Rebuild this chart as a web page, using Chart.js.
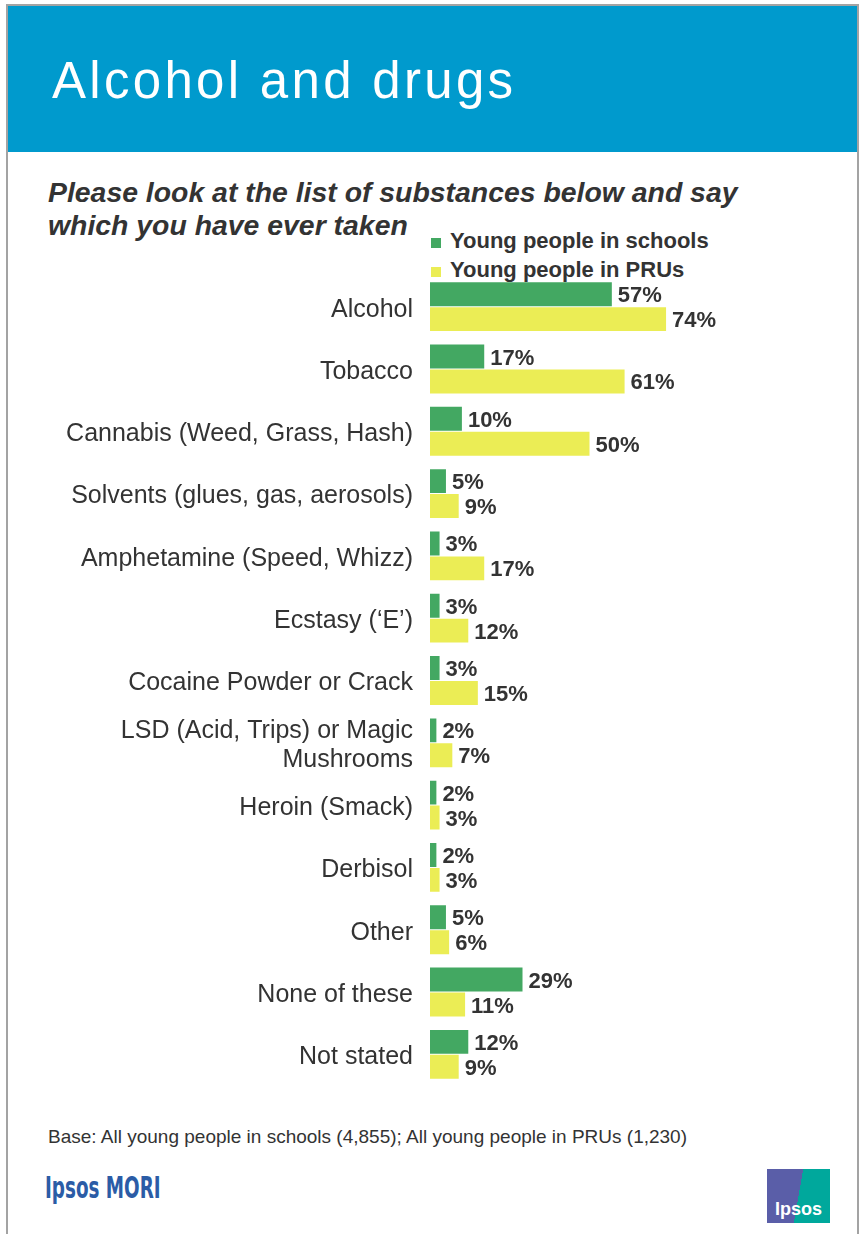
<!DOCTYPE html>
<html>
<head>
<meta charset="utf-8">
<script src="https://cdn.jsdelivr.net/npm/chart.js@4.4.1/dist/chart.umd.min.js"></script>
<style>
    body { margin: 0; background: #fff; font-family: "Liberation Sans", Arial, sans-serif; }
    .page { position: relative; width: 861px; height: 1234px; overflow: hidden; }
    .frame { position: absolute; left: 6px; top: 4px; width: 849px; height: 1300px; border: 2px solid #a3a3a3; border-bottom: none; }
    .header { position: absolute; left: 8px; top: 6px; width: 849px; height: 146px; background: #009acd; }
    .header h1 { position: absolute; left: 44px; top: 49px; margin: 0; font-size: 51px; font-weight: normal; letter-spacing: 3.3px; color: #fff; line-height: 1; }
    .question { position: absolute; left: 48px; top: 176px; margin: 0; font-size: 28.4px; font-weight: bold; font-style: italic; color: #333; line-height: 33px; }
    .legend { position: absolute; left: 431px; top: 228px; font-size: 22px; font-weight: bold; color: #333; }
    .legend div { height: 29px; line-height: 26px; }
    .legend span { display: inline-block; width: 10px; height: 10px; margin-right: 9px; }
    #chart { position: absolute; left: 0; top: 244px; }
    .base { position: absolute; left: 48px; top: 1126px; font-size: 19px; color: #333; }
    .mori { position: absolute; left: 45px; top: 1170px; font-family: "DejaVu Sans Condensed", sans-serif; font-size: 30px; font-weight: bold; color: #2b5ca6; transform: scaleX(0.68); transform-origin: left; }
    .logo { position: absolute; left: 767px; top: 1169px; width: 63px; height: 54px; background: linear-gradient(100deg, #5a5ea8 50%, #00a89c 50%); }
    .logo b { position: absolute; left: 0; right: 0; bottom: 3px; text-align: center; color: #fff; font-size: 18px; }
</style>
</head>
<body>
<div class="page">
    <div class="frame"></div>
    <div class="header"><h1>Alcohol and drugs</h1></div>
    <p class="question">Please look at the list of substances below and say<br>which you have ever taken</p>
    <div class="legend">
        <div><span style="background:#43a862"></span>Young people in schools</div>
        <div><span style="background:#ebed55"></span>Young people in PRUs</div>
    </div>
    <canvas id="chart" width="861" height="873"></canvas>
    <div class="base">Base: All young people in schools (4,855); All young people in PRUs (1,230)</div>
    <div class="mori">Ipsos MORI</div>
    <div class="logo"><b>Ipsos</b></div>
</div>
<script>
// substances asked about
const substances = [
    'Alcohol',
    'Tobacco',
    'Cannabis (Weed, Grass, Hash)',
    'Solvents (glues, gas, aerosols)',
    'Amphetamine (Speed, Whizz)',
    'Ecstasy (\u2018E\u2019)',
    'Cocaine Powder or Crack',
    ['LSD (Acid, Trips) or Magic', 'Mushrooms'],
    'Heroin (Smack)',
    'Derbisol',
    'Other',
    'None of these',
    'Not stated'
]

// % who have ever taken each one
const schools = [57, 17, 10, 5, 3, 3, 3, 2, 2, 2, 5, 29, 12]
const prus = [74, 61, 50, 9, 17, 12, 15, 7, 3, 3, 6, 11, 9]

const green = '#43a862'
const yellow = '#ebed55'

// writes the % next to the end of each bar
const valueLabels = {
    id: 'valueLabels',
    afterDatasetsDraw(chart) {
        const ctx = chart.ctx
        ctx.save()
        ctx.font = 'bold 22px "Liberation Sans", Arial, sans-serif'
        ctx.fillStyle = '#333'
        ctx.textAlign = 'left'
        ctx.textBaseline = 'middle'
        chart.data.datasets.forEach((ds, i) => {
            chart.getDatasetMeta(i).data.forEach((bar, j) => {
                ctx.fillText(`${ds.data[j]}%`, bar.x + 6, bar.y + 2)
            })
        })
        ctx.restore()
    }
}

const config = {
    type: 'bar',
    data: {
        labels: substances,
        datasets: [
            { label: 'Young people in schools', data: schools, backgroundColor: green },
            { label: 'Young people in PRUs', data: prus, backgroundColor: yellow }
        ]
    },
    options: {
        indexAxis: 'y',
        responsive: false,
        animation: false,
        devicePixelRatio: 1,
        categoryPercentage: 0.8,
        barPercentage: 0.96,
        layout: { padding: { left: 0, right: 112, top: 0, bottom: 0 } },
        plugins: {
            legend: { display: false },
            tooltip: { enabled: false }
        },
        scales: {
            x: { min: 0, max: 100, display: false },
            y: {
                grid: { display: false, drawTicks: false },
                border: { display: false },
                ticks: {
                    padding: 17,
                    labelOffset: 3,
                    color: '#333',
                    font: { family: '"Liberation Sans", Arial, sans-serif', size: 25, lineHeight: 1.16 }
                },
                afterFit(scale) { scale.width = 430 }
            }
        }
    },
    plugins: [valueLabels]
}

new Chart(document.getElementById('chart'), config)
</script>
</body>
</html>
